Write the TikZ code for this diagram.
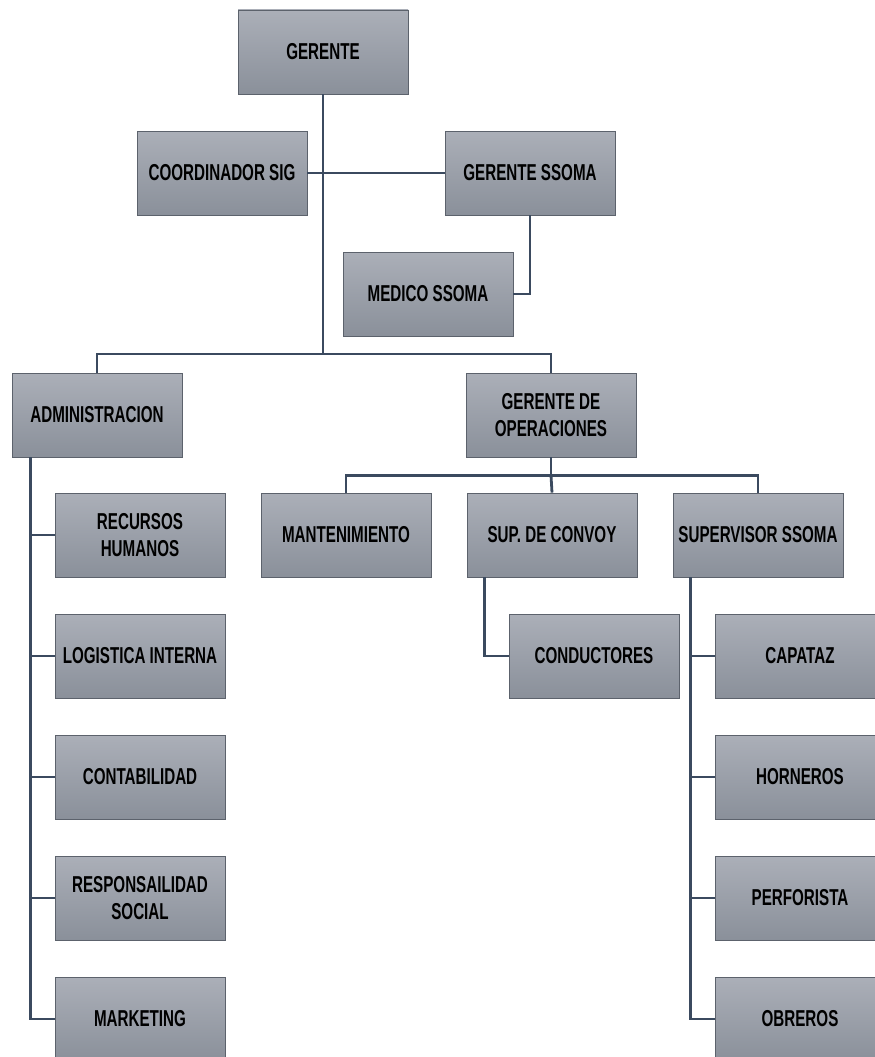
\documentclass[tikz,border=0pt]{standalone}
\usepackage{fontspec}
\newfontfamily\boxfont[FakeStretch=0.66]{Liberation Sans}
\usetikzlibrary{calc}
\definecolor{boxtop}{HTML}{ABAFB8}
\definecolor{boxbot}{HTML}{8A909A}
\definecolor{boxline}{HTML}{5C626C}
\definecolor{linkcol}{HTML}{3B4A5F}
\tikzset{
  unit/.style={draw=boxline, line width=0.9pt, top color=boxtop, bottom color=boxbot,
    minimum width=170pt, minimum height=84pt, inner sep=0pt, align=center,
    font=\boxfont\bfseries\fontsize{23}{27}\selectfont, text=black},
  link/.style={draw=linkcol, line width=2.8pt}
}
\begin{document}
\begin{tikzpicture}[x=1pt,y=-1pt]
\clip (0,0) rectangle (875,1057);
\fill[white] (0,0) rectangle (875,1057);
% top management
\node[unit] (ger)    at (323,52)  {GERENTE};
\node[unit] (sig)    at (222,173) {COORDINADOR SIG};
\node[unit] (gss)    at (530,173) {GERENTE SSOMA};
\node[unit] (med)    at (428,294) {MEDICO SSOMA};
% second level
\node[unit] (adm)    at (97,415)  {ADMINISTRACION};
\node[unit] (gop)    at (551,415) {GERENTE DE\\OPERACIONES};
% operations
\node[unit] (mant)   at (346,535) {MANTENIMIENTO};
\node[unit] (conv)   at (552,535) {SUP. DE CONVOY};
\node[unit] (sups)   at (758,535) {SUPERVISOR SSOMA};
\node[unit] (cond)   at (594,656) {CONDUCTORES};
\node[unit] (cap)    at (800,656) {CAPATAZ};
\node[unit] (horn)   at (800,777) {HORNEROS};
\node[unit] (perf)   at (800,898) {PERFORISTA};
\node[unit] (obr)    at (800,1019) {OBREROS};
% administration
\node[unit] (rrhh)   at (140,535) {RECURSOS\\HUMANOS};
\node[unit] (logi)   at (140,656) {LOGISTICA INTERNA};
\node[unit] (cont)   at (140,777) {CONTABILIDAD};
\node[unit] (resp)   at (140,898) {RESPONSAILIDAD\\SOCIAL};
\node[unit] (mkt)    at (140,1019) {MARKETING};

% connectors
\coordinate (j1) at (ger.south |- 0,354);
\draw[link] (ger.south) -- (j1);
\draw[link] (sig.east) -- (gss.west);
\draw[link] (gss.south) |- (med.east);
\draw[link] (adm.north) |- (j1) -| (gop.north);

\coordinate (j2) at ($(gop.south)+(0,18)$);
\draw[link] (gop.south) -- (j2);
\draw[link] (mant.north) |- (j2) -| (sups.north);
\draw[link] (j2) -- (conv.north);

\coordinate (a0) at ($(adm.south west)+(19,0)$);
\draw[link] (a0) |- (mkt.west);
\foreach \n in {rrhh,logi,cont,resp} \draw[link] (\n.west) -- (\n.west -| a0);

\coordinate (c0) at ($(conv.south west)+(18,0)$);
\draw[link] (c0) |- (cond.west);

\coordinate (s0) at ($(sups.south west)+(18,0)$);
\draw[link] (s0) |- (obr.west);
\foreach \n in {cap,horn,perf} \draw[link] (\n.west) -- (\n.west -| s0);
\end{tikzpicture}
\end{document}
